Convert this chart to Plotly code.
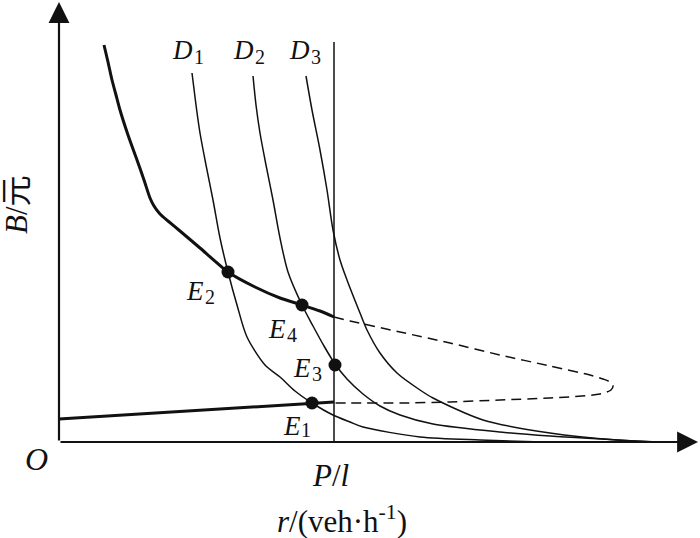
import plotly.graph_objects as go

# curve values (units: px from the origin corner)
upper_x = [45, 49, 53, 57, 61, 69, 78, 85, 91, 95, 101, 109, 121, 141, 169, 196, 221, 243, 261, 275]
upper_y = [397, 380, 362, 347, 332, 307, 282, 262, 244, 236, 228, 221, 211, 194, 170, 155, 144, 137, 131, 125]

lower_x = [0, 275]
lower_y = [23, 40]

loop_x = [275, 291, 341, 391, 441, 491, 531, 544, 551, 554, 552, 541, 491, 441, 391, 341, 291, 275]
loop_y = [125, 121, 110, 99, 87, 76, 67, 63, 60, 56, 52, 48, 44, 42, 40, 39, 39, 39]

d1_x = [133, 137, 141, 147, 154, 161, 169, 178, 188, 206, 221, 236, 253, 274, 291, 304, 361, 421, 501, 591]
d1_y = [369, 337, 309, 277, 242, 204, 170, 137, 105, 77, 65, 51, 39, 27, 20, 15, 5, 2, 0, 0]

d2_x = [194, 197, 201, 207, 214, 221, 229, 243, 254, 265, 276, 288, 304, 321, 341, 374, 441, 491, 596]
d2_y = [366, 337, 309, 277, 242, 204, 170, 137, 116, 96, 78, 63, 48, 36, 27, 18, 10, 6, 0]

d3_x = [247, 253, 261, 268, 274, 281, 288, 301, 308, 321, 338, 361, 374, 424, 491, 558, 601]
d3_y = [366, 332, 292, 252, 212, 182, 162, 129, 112, 89, 69, 52, 44, 22, 9, 2, 0]

capacity_x = 275      # P/l
capacity_top = 400

point_names = ["E1", "E2", "E3", "E4"]
point_x = [253, 169, 276, 243]
point_y = [39, 170, 77, 137]

FONT = "Liberation Serif, Times New Roman, serif"
BLACK = "#111111"

fig = go.Figure()

for xs, ys in [(d1_x, d1_y), (d2_x, d2_y), (d3_x, d3_y)]:
    fig.add_trace(go.Scatter(x=xs, y=ys, mode="lines",
                             line=dict(color=BLACK, width=1.5, shape="spline", smoothing=0.8),
                             hoverinfo="skip"))

fig.add_trace(go.Scatter(x=[capacity_x, capacity_x], y=[0, capacity_top], mode="lines",
                         line=dict(color=BLACK, width=1.5), hoverinfo="skip"))

fig.add_trace(go.Scatter(x=loop_x, y=loop_y, mode="lines",
                         line=dict(color=BLACK, width=1.5, dash="10px,6px", shape="spline", smoothing=0.8),
                         hoverinfo="skip"))

fig.add_trace(go.Scatter(x=upper_x, y=upper_y, mode="lines",
                         line=dict(color=BLACK, width=3, shape="spline", smoothing=0.6),
                         hoverinfo="skip"))
fig.add_trace(go.Scatter(x=lower_x, y=lower_y, mode="lines",
                         line=dict(color=BLACK, width=3), hoverinfo="skip"))

fig.add_trace(go.Scatter(x=point_x, y=point_y, mode="markers",
                         marker=dict(color=BLACK, size=13),
                         text=point_names, hoverinfo="text"))

annotations = []

# axes with arrowheads
for tip, tail in [((0, 440), (0, 0)), ((639, 0), (0, 0))]:
    annotations.append(dict(x=tip[0], y=tip[1], ax=tail[0], ay=tail[1],
                            xref="x", yref="y", axref="x", ayref="y",
                            text="", showarrow=True, arrowhead=2,
                            arrowsize=1.9, arrowwidth=2.2, arrowcolor=BLACK))

# italic letter + upright subscript, placed separately so the subscript keeps its size
curve_labels = [
    ("D", "1", 123, 392, 140, 385),
    ("D", "2", 184, 392, 201, 385),
    ("D", "3", 240, 392, 257, 385),
    ("E", "2", 136, 151, 151, 145),
    ("E", "4", 218, 113, 233, 107),
    ("E", "3", 243, 74, 258, 68),
    ("E", "1", 233, 16, 247, 12),
]
for letter, sub, x, y, sx, sy in curve_labels:
    annotations.append(dict(x=x, y=y, xref="x", yref="y", text=f"<i>{letter}</i>",
                            showarrow=False, font=dict(family=FONT, size=27, color=BLACK)))
    annotations.append(dict(x=sx, y=sy, xref="x", yref="y", text=sub,
                            showarrow=False, font=dict(family=FONT, size=20, color=BLACK)))

axis_labels = [
    ("<i>O</i>", -23, -17, 32),
    ("<i>P</i>/<i>l</i>", 271, -33, 31),
    ("<i>r</i>/(veh·h<sup>-1</sup>)", 283, -77, 31),
]
for txt, x, y, size in axis_labels:
    annotations.append(dict(x=x, y=y, xref="x", yref="y", text=txt, showarrow=False,
                            font=dict(family=FONT, size=size, color=BLACK)))

annotations.append(dict(x=-43, y=237, xref="x", yref="y", text="<i>B</i>/元",
                        showarrow=False, textangle=-90,
                        font=dict(family="Liberation Serif, Noto Sans CJK SC", size=31, color=BLACK)))

fig.update_layout(
    width=700,
    height=538,
    autosize=False,
    showlegend=False,
    plot_bgcolor="white",
    paper_bgcolor="white",
    margin=dict(l=0, r=0, t=0, b=0),
    xaxis=dict(range=[-59, 641], visible=False, fixedrange=True),
    yaxis=dict(range=[-96, 442], visible=False, fixedrange=True),
    annotations=annotations,
)

fig.write_html("out.html", config={"displayModeBar": False},
               post_script="document.body.style.margin='0';")
